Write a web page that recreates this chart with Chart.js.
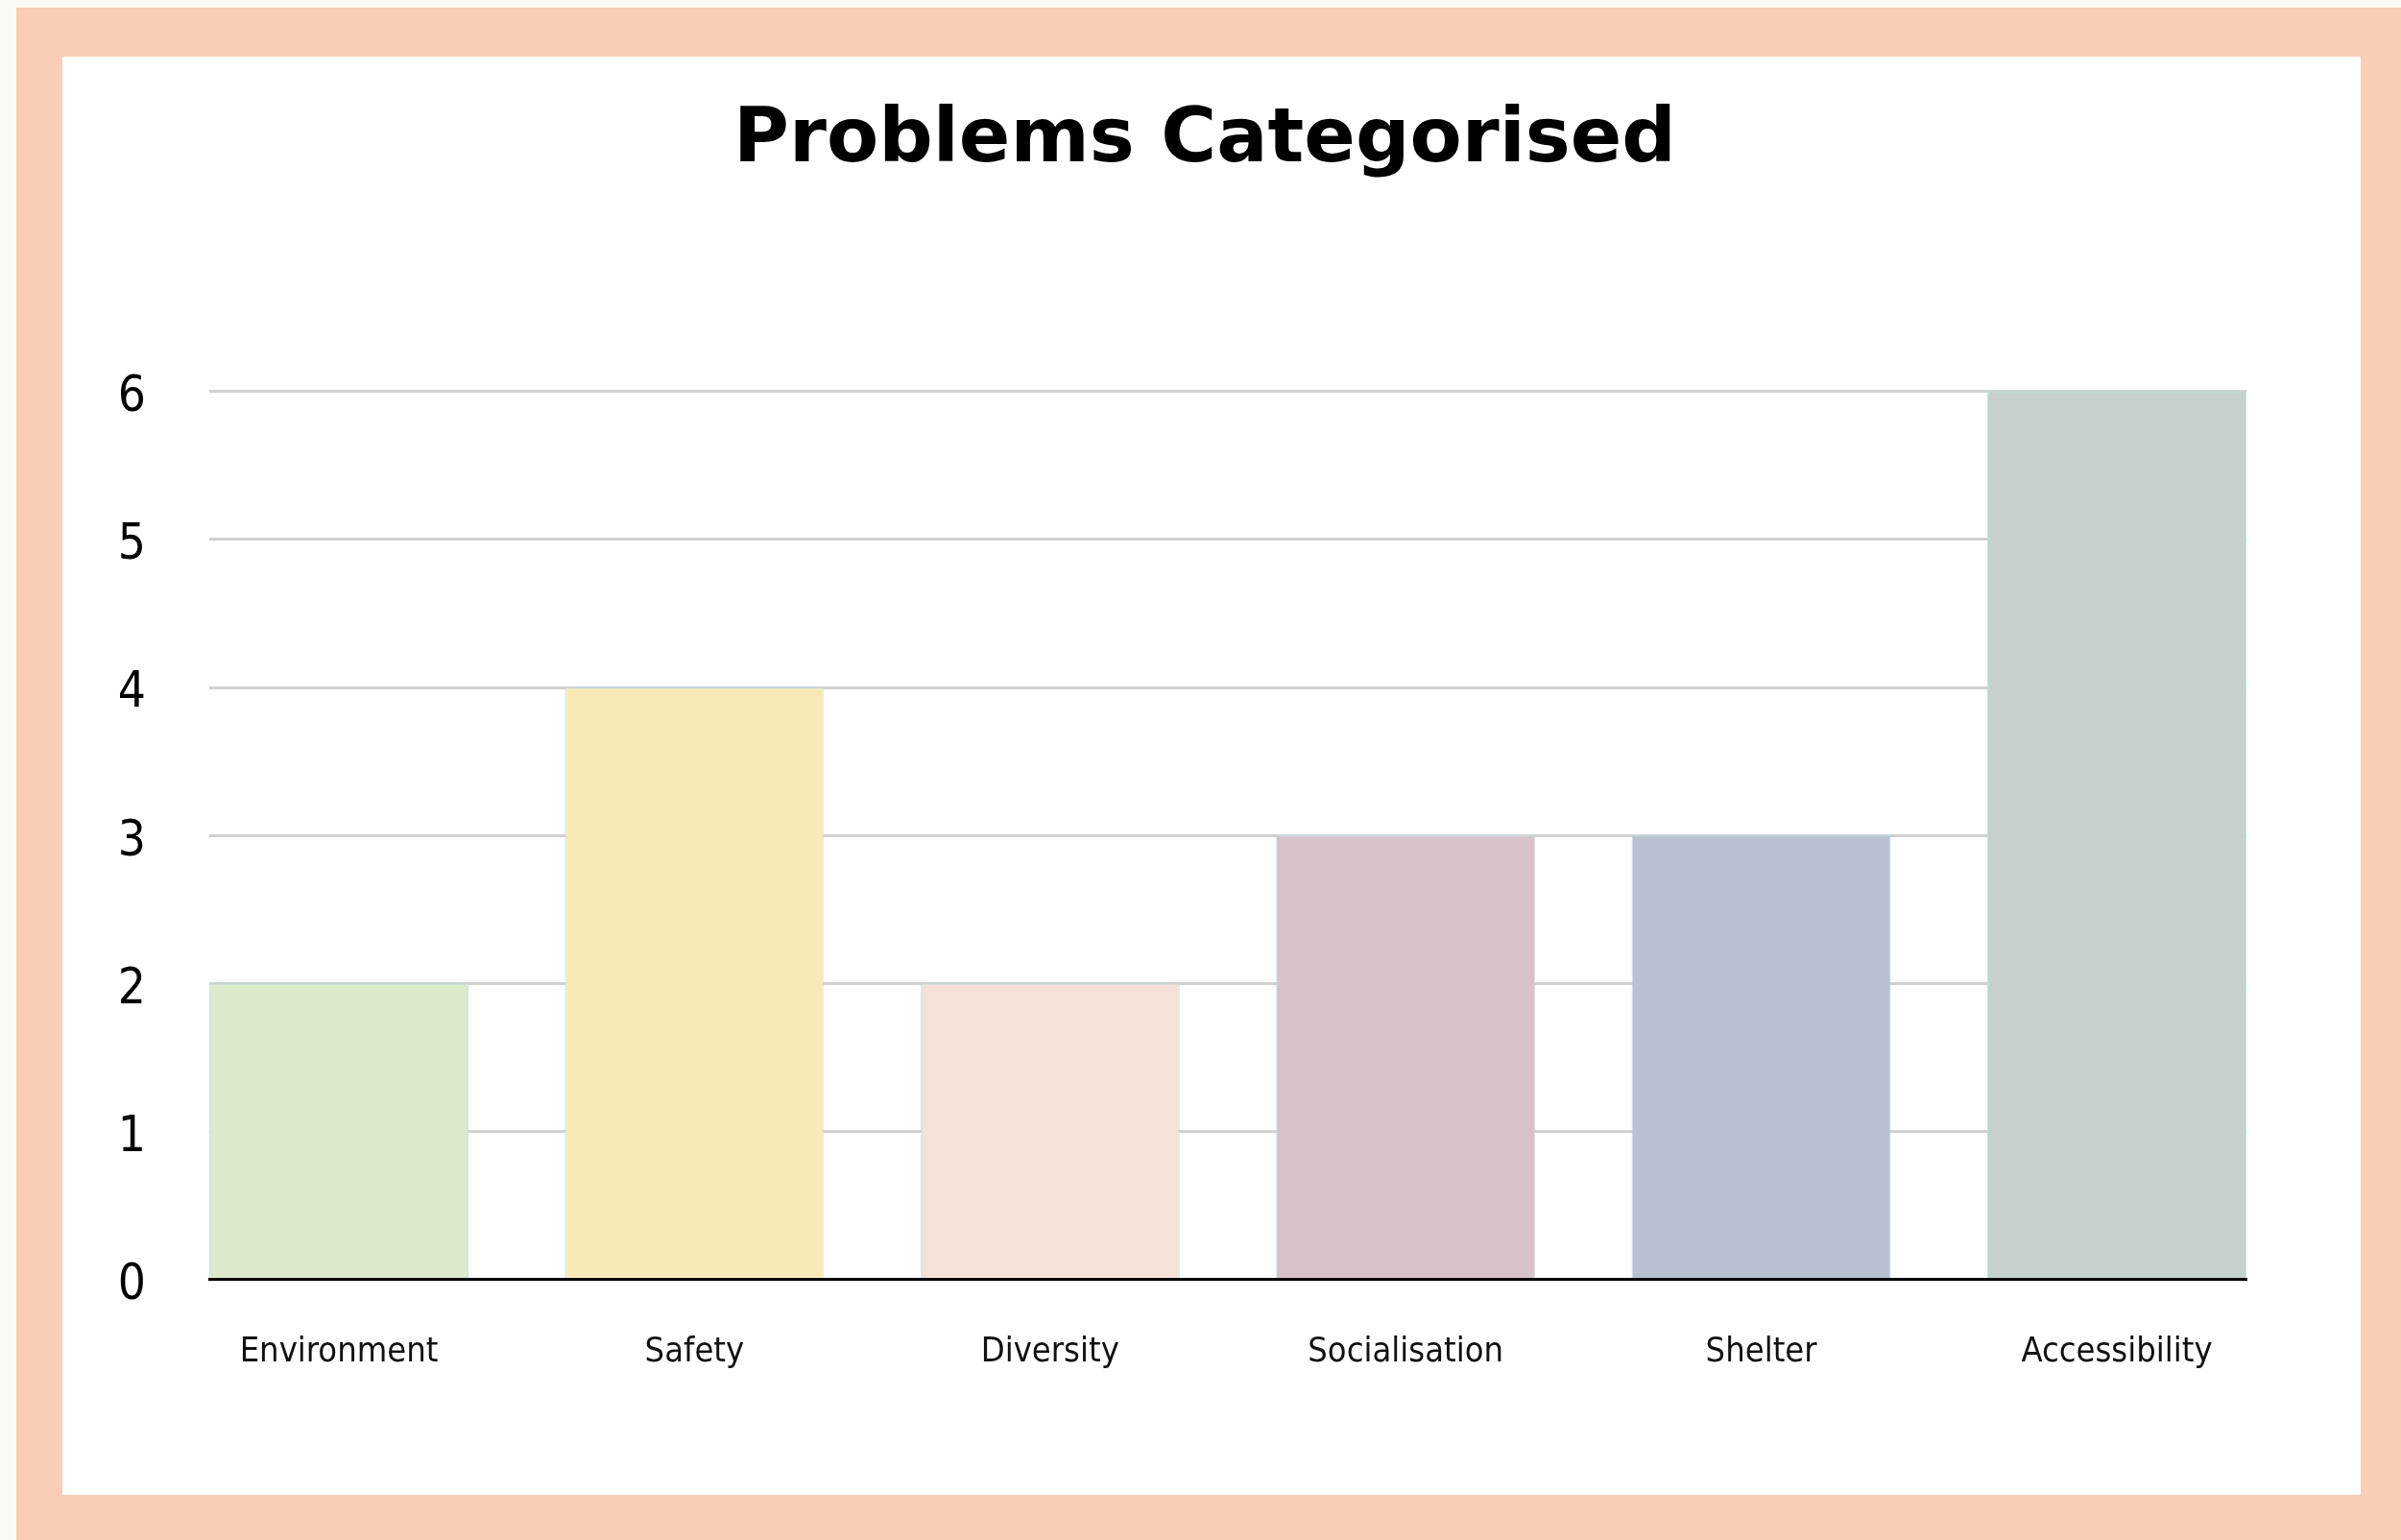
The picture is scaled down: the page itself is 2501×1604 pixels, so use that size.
<!DOCTYPE html>
<html>
<head>
<meta charset="utf-8">
<script src="https://cdn.jsdelivr.net/npm/chart.js@4/dist/chart.umd.min.js"></script>
<style>
    html, body { margin: 0; padding: 0; background: #fcf8f3; overflow: hidden; }
    #frame {
        position: absolute; left: 17px; top: 8px;
        width: 2484px; height: 1596px;
        background: #f9cdb6;
    }
    #card {
        position: absolute; left: 65px; top: 59px;
        width: 2394px; height: 1498px;
        background: #ffffff;
    }
    #problemsChart { position: absolute; left: 0; top: 0; }
</style>
</head>
<body>
<div id="frame"></div>
<div id="card"></div>
<canvas id="problemsChart" width="2501" height="1604"></canvas>
<script>
var categories = ['Environment', 'Safety', 'Diversity', 'Socialisation', 'Shelter', 'Accessibility'];
var problemCounts = [2, 4, 2, 3, 3, 6];
var barColors = ['#dde9cb', '#f8eab8', '#f4e1d7', '#d8c1cb', '#b9c0d0', '#c6d0cc'];
var yTicks = [0, 1, 2, 3, 4, 5, 6];

document.addEventListener('DOMContentLoaded', function() {
    var ctx = document.getElementById('problemsChart').getContext('2d');
    var points = categories.map(function(c, i) {
        return { x: i, y: problemCounts[i] };
    });

    new Chart(ctx, {
        type: 'bar',
        data: {
            datasets: [{
                label: 'Problems',
                data: points,
                backgroundColor: barColors,
                borderColor: 'rgba(170, 230, 232, 0.8)',
                borderWidth: 1,
                categoryPercentage: 1,
                barPercentage: 0.729
            }]
        },
        options: {
            responsive: false,
            animation: false,
            devicePixelRatio: 1,
            layout: {
                padding: { left: 118, right: 109, top: 0, bottom: 120 }
            },
            plugins: {
                legend: { display: false },
                tooltip: { enabled: false },
                title: {
                    display: true,
                    text: 'Problems Categorised',
                    color: '#000000',
                    font: { family: 'DejaVu Sans', size: 79, weight: 'bold' },
                    padding: { top: 100, bottom: 213 }
                }
            },
            scales: {
                x: {
                    type: 'linear',
                    offset: false,
                    bounds: 'data',
                    min: -0.3645,
                    max: categories.length - 1 + 0.3645,
                    afterBuildTicks: function(scale) {
                        scale.ticks = categories.map(function(c, i) { return { value: i }; });
                    },
                    grid: { display: false, drawTicks: false },
                    border: { display: true, color: '#000000', width: 3 },
                    ticks: {
                        padding: 54,
                        autoSkip: false,
                        maxRotation: 0,
                        color: '#111111',
                        font: { family: "'DejaVu Sans Condensed', 'Liberation Sans', sans-serif", size: 36 },
                        callback: function(value) { return categories[value]; }
                    }
                },
                y: {
                    min: yTicks[0],
                    max: yTicks[yTicks.length - 1],
                    afterBuildTicks: function(scale) {
                        scale.ticks = yTicks.map(function(v) { return { value: v }; });
                    },
                    afterFit: function(scale) {
                        scale.width = 100;
                    },
                    grid: { color: '#d1d1d1', lineWidth: 3, drawTicks: false },
                    border: { display: false },
                    ticks: {
                        padding: 66,
                        labelOffset: 7,
                        color: '#000000',
                        font: { family: "'DejaVu Sans Condensed', 'Liberation Sans', sans-serif", size: 51 }
                    }
                },
                // empty right-hand spacer so the title sits centred on the card
                spacer: {
                    type: 'linear',
                    position: 'right',
                    afterFit: function(scale) {
                        scale.width = 52;
                    },
                    grid: { display: false, drawTicks: false },
                    border: { display: false },
                    ticks: { display: false }
                }
            }
        }
    });
});
</script>
</body>
</html>
